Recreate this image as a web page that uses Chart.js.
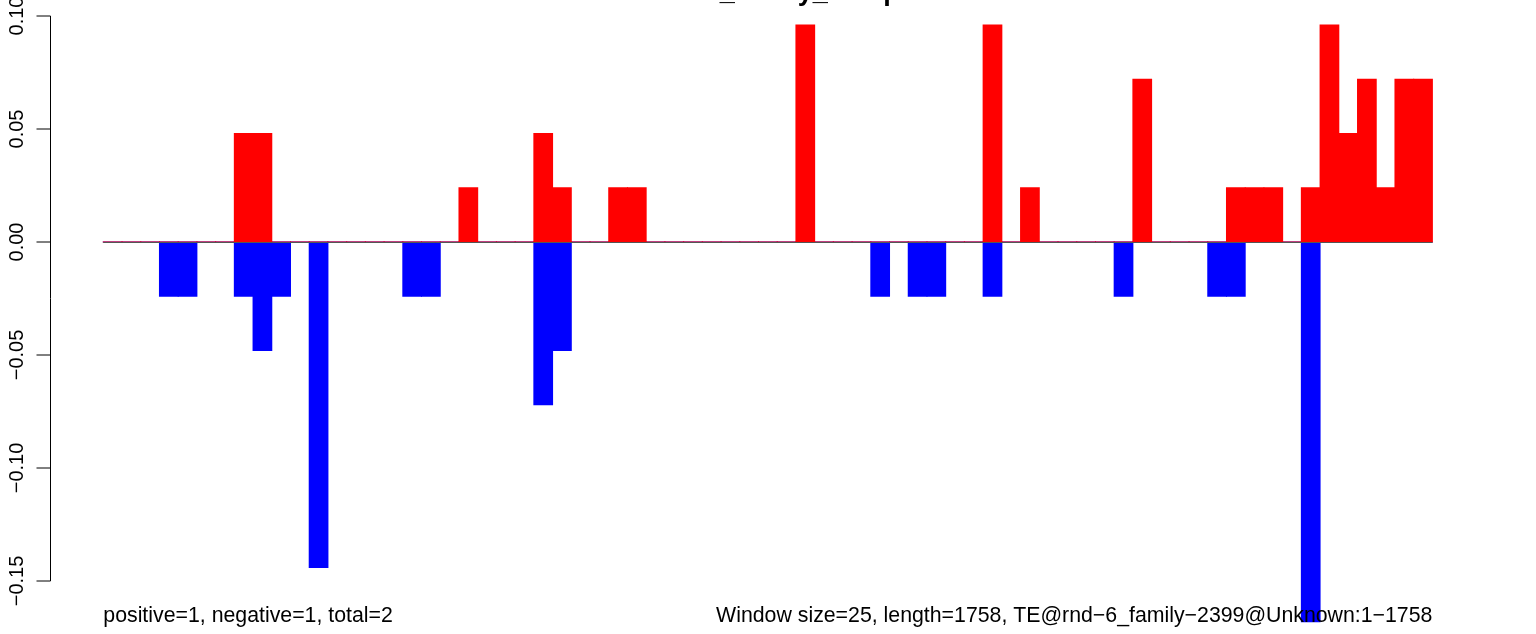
<!DOCTYPE html>
<html>
<head>
<meta charset="utf-8">
<script src="https://cdn.jsdelivr.net/npm/chart.js@4/dist/chart.umd.min.js"></script>
<style>
  html, body { margin: 0; padding: 0; background: #fff; }
  canvas { display: block; }
</style>
</head>
<body>
<canvas id="grafico" width="1536" height="634"></canvas>
<script>
const windowSize = 25;
const seqLength = 1758;
const windowCount = 71;

// one bar per window of 25 bp
const windowLabels = Array.from({ length: windowCount }, (_, i) => i * windowSize + 1);

const positiveValues = [
  0, 0, 0, 0, 0, 0, 0, 0.048, 0.048, 0,
  0, 0, 0, 0, 0, 0, 0, 0, 0, 0.024,
  0, 0, 0, 0.048, 0.024, 0, 0, 0.024, 0.024, 0,
  0, 0, 0, 0, 0, 0, 0, 0.096, 0, 0,
  0, 0, 0, 0, 0, 0, 0, 0.096, 0, 0.024,
  0, 0, 0, 0, 0, 0.072, 0, 0, 0, 0,
  0.024, 0.024, 0.024, 0, 0.024, 0.096, 0.048, 0.072, 0.024, 0.072,
  0.072
];

const negativeValues = [
  0, 0, 0, -0.024, -0.024, 0, 0, -0.024, -0.048, -0.024,
  0, -0.144, 0, 0, 0, 0, -0.024, -0.024, 0, 0,
  0, 0, 0, -0.072, -0.048, 0, 0, 0, 0, 0,
  0, 0, 0, 0, 0, 0, 0, 0, 0, 0,
  0, -0.024, 0, -0.024, -0.024, 0, 0, -0.024, 0, 0,
  0, 0, 0, 0, -0.024, 0, 0, 0, 0, -0.024,
  -0.024, 0, 0, 0, -0.168, 0, 0, 0, 0, 0,
  0
];

const yTicks = [0.10, 0.05, 0.00, -0.05, -0.10, -0.15];
const yTickLabels = ['0.10', '0.05', '0.00', '\u22120.05', '\u22120.10', '\u22120.15'];

const titleText = 'TE-Unknown_family_comparison';
const leftNote = 'positive=1, negative=1, total=2';
const rightNote = 'Window size=' + windowSize + ', length=' + seqLength +
  ', TE@rnd\u22126_family\u22122399@Unknown:1\u2212' + seqLength;

// R style axis, zero line and margin texts
const rDecor = {
  id: 'rDecor',
  afterDatasetsDraw(chart) {
    const { ctx, chartArea, scales } = chart;
    const y = scales.y;
    ctx.save();

    // zero line
    const y0 = Math.round(y.getPixelForValue(0)) + 0.5;
    ctx.strokeStyle = '#555';
    ctx.lineWidth = 1;
    ctx.beginPath();
    ctx.moveTo(chartArea.left, y0);
    ctx.lineTo(chartArea.right, y0);
    ctx.stroke();

    // left axis
    const axisX = 50.5;
    ctx.strokeStyle = '#000';
    ctx.beginPath();
    ctx.moveTo(axisX, y.getPixelForValue(yTicks[0]));
    ctx.lineTo(axisX, y.getPixelForValue(yTicks[yTicks.length - 1]));
    yTicks.forEach(v => {
      const py = y.getPixelForValue(v);
      ctx.moveTo(axisX, py);
      ctx.lineTo(axisX - 14, py);
    });
    ctx.stroke();

    ctx.fillStyle = '#000';
    ctx.font = '20px "Liberation Sans", Arial, sans-serif';
    ctx.textAlign = 'center';
    ctx.textBaseline = 'alphabetic';
    yTicks.forEach((v, i) => {
      ctx.save();
      ctx.translate(23, y.getPixelForValue(v));
      ctx.rotate(-Math.PI / 2);
      ctx.fillText(yTickLabels[i], 0, 0);
      ctx.restore();
    });

    // bottom notes
    ctx.font = '21.3px "Liberation Sans", Arial, sans-serif';
    ctx.textAlign = 'left';
    ctx.fillText(leftNote, chartArea.left, 622);
    ctx.textAlign = 'right';
    ctx.fillText(rightNote, chartArea.right, 622);

    // title, mostly above the page
    ctx.font = 'bold 27px "Liberation Sans", Arial, sans-serif';
    ctx.textAlign = 'center';
    ctx.fillText(titleText, (chartArea.left + chartArea.right) / 2, -0.5);

    ctx.restore();
  }
};

new Chart(document.getElementById('grafico'), {
  type: 'bar',
  data: {
    labels: windowLabels,
    datasets: [
      { label: 'positive', data: positiveValues, backgroundColor: '#ff0000' },
      { label: 'negative', data: negativeValues, backgroundColor: '#0000ff' }
    ].map(d => ({
      ...d,
      grouped: false,
      clip: false,
      borderWidth: 0,
      inflateAmount: 0.5,
      barPercentage: 1,
      categoryPercentage: 1
    }))
  },
  options: {
    responsive: false,
    animation: false,
    devicePixelRatio: 1,
    layout: { padding: { left: 103.3, right: 103.6, top: 16, bottom: 53 } },
    plugins: { legend: { display: false }, tooltip: { enabled: false } },
    scales: {
      x: { display: false },
      y: { display: false, min: -0.15, max: 0.10 }
    }
  },
  plugins: [rDecor]
});
</script>
</body>
</html>
